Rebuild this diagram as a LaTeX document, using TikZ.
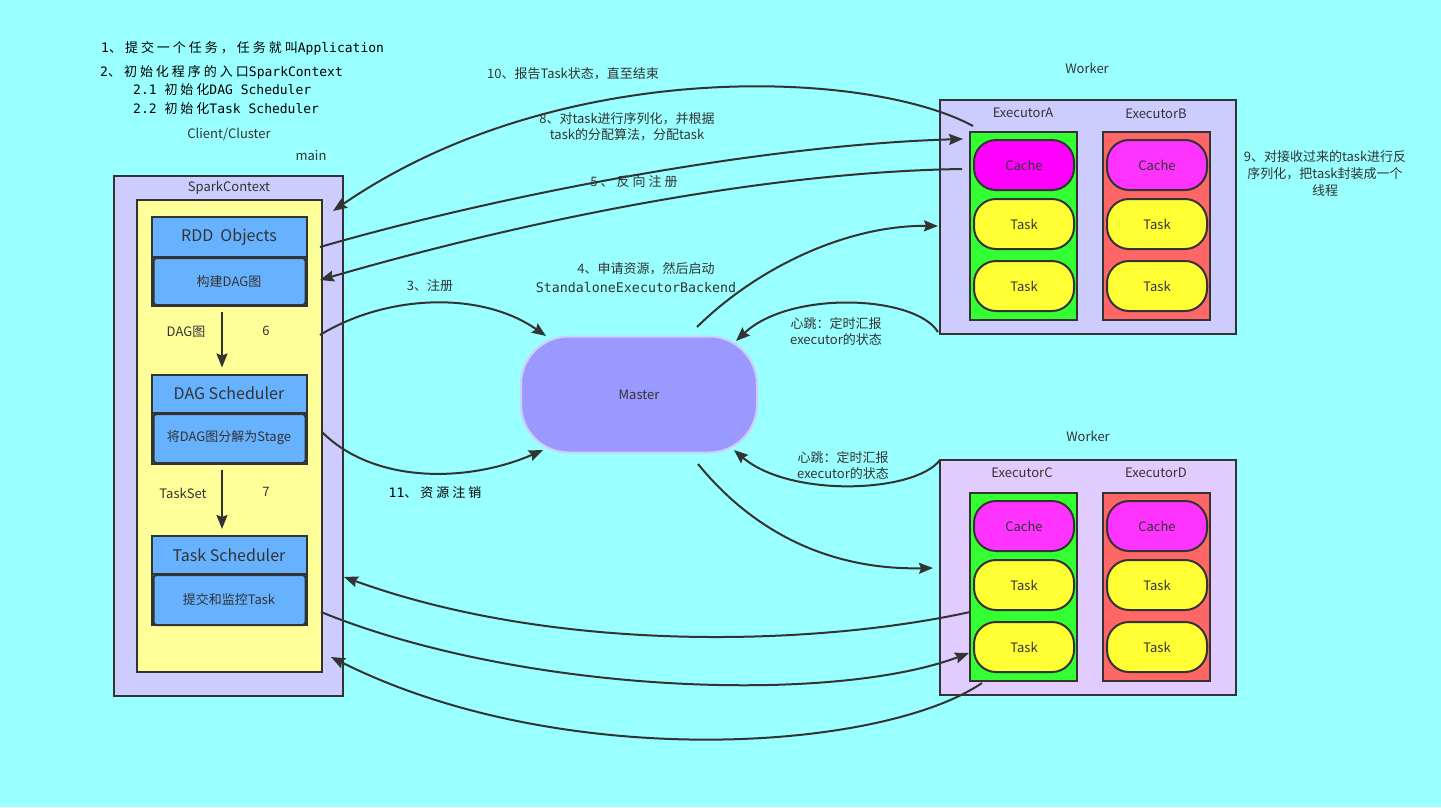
\documentclass[tikz,border=0pt]{standalone}
\usepackage{fontspec}
\setmainfont{Noto Sans CJK SC}
\newfontfamily\cjkwide{Noto Sans CJK SC}[LetterSpace=23]
\newfontfamily\monoface{DejaVu Sans Mono}
\usetikzlibrary{arrows.meta}

\definecolor{bgcyan}{HTML}{99FFFF}
\definecolor{dk}{HTML}{333333}
\definecolor{lav}{HTML}{CCCCFF}
\definecolor{lavpink}{HTML}{E0CCFF}
\definecolor{paleyel}{HTML}{FFFF99}
\definecolor{compblue}{HTML}{66B2FF}
\definecolor{masterfill}{HTML}{9999FF}
\definecolor{masteredge}{HTML}{D0CCFF}
\definecolor{exgreen}{HTML}{33FF33}
\definecolor{exred}{HTML}{FF6666}
\definecolor{magA}{HTML}{FF00FF}
\definecolor{magB}{HTML}{FF33FF}
\definecolor{taskyel}{HTML}{FFFF33}

% monospaced Latin and letter-spaced CJK pieces
\newcommand\mtxt[2][13]{{\monoface\fontsize{#1}{15}\selectfont #2}}
\newcommand\wtxt[1]{{\cjkwide\fontsize{13}{15}\selectfont #1}}

\begin{document}
\begin{tikzpicture}[x=1pt,y=-1pt,
  font=\fontsize{13}{16}\selectfont, text=dk,
  boxed/.style={draw=dk, line width=2pt, inner sep=0pt},
  pill/.style={boxed, rounded corners=22pt, minimum width=100pt, minimum height=50pt},
  exec/.style={boxed, minimum width=107pt, minimum height=188pt},
  comp/.style={boxed, fill=compblue, minimum width=155pt, minimum height=89pt},
  conn/.style={draw=dk, line width=2pt, -{Stealth[length=14pt,width=11pt,inset=2pt]}},
  lbl/.style={inner sep=0pt, align=center},
  big/.style={font=\fontsize{16}{18}\selectfont},
]
\fill[bgcyan] (0,0) rectangle (1441,807);
\useasboundingbox (0,0) rectangle (1441,807);

% ---- notes at the top left
\node[lbl, anchor=west, text=black] (t1) at (101,48) {\mtxt{1}\wtxt{、提交一个任务，任务就叫}\mtxt{Application}};
\node[lbl, anchor=west, text=black] (t2) at (100,72) {\mtxt{2}\wtxt{、初始化程序的入口}\mtxt{SparkContext}};
\node[lbl, anchor=west, text=black] (t3) at (133,90) {\mtxt{2.1 }\wtxt{初始化}\mtxt{DAG Scheduler}};
\node[lbl, anchor=west, text=black] (t4) at (133,109) {\mtxt{2.2 }\wtxt{初始化}\mtxt{Task Scheduler}};
\node[lbl] (client) at (229,134) {Client/Cluster};
\node[lbl] (mainlbl) at (311,156) {main};

% ---- driver side
\node[boxed, fill=lav, minimum width=229pt, minimum height=520pt] (sc) at (228.5,436) {};
\node[lbl] (sclbl) at (229,188) {SparkContext};
\node[boxed, fill=paleyel, minimum width=185pt, minimum height=472pt] (yel) at (229,436) {};

\node[comp] (rdd) at (229.5,261.5) {};
\draw[dk, line width=2pt] (152,257) -- (307,257);
\draw[boxed, fill=compblue, rounded corners=3pt] (153.5,258) rectangle (305.5,305);
\node[lbl, big] (rddt) at (229,237) {RDD\ \ Objects};
\node[lbl] (rdds) at (229,282) {构建DAG图};

\node[comp] (dag) at (229.5,419) {};
\draw[dk, line width=2pt] (152,413) -- (307,413);
\draw[boxed, fill=compblue, rounded corners=3pt] (153.5,414) rectangle (305.5,463);
\node[lbl, big] (dagt) at (229,393) {DAG Scheduler};
\node[lbl] (dags) at (229,438) {将DAG图分解为Stage};

\node[comp] (ts) at (229.5,580.5) {};
\draw[dk, line width=2pt] (152,574) -- (307,574);
\draw[boxed, fill=compblue, rounded corners=3pt] (153.5,575) rectangle (305.5,625);
\node[lbl, big] (tst) at (229,555) {Task Scheduler};
\node[lbl] (tss) at (229,600) {提交和监控Task};

\draw[conn] ([yshift=-5pt]rdd.south -| 222,0) -- ([yshift=6pt]dag.north -| 222,0);
\draw[conn] ([yshift=-5pt]dag.south -| 222,0) -- ([yshift=6pt]ts.north -| 222,0);
\node[lbl] (dagimg) at (186,332) {DAG图};
\node[lbl] (six) at (266,331) {6};
\node[lbl] (taskset) at (183,493) {TaskSet};
\node[lbl] (seven) at (266,492) {7};

% ---- master
\node[draw=masteredge, line width=2pt, fill=masterfill, rounded corners=48pt,
      minimum width=236pt, minimum height=116pt] (master) at (639,394.5) {Master};

% ---- upper worker
\node[lbl] (w1lbl) at (1087,68) {Worker};
\node[boxed, fill=lav, minimum width=296pt, minimum height=234pt] (w1) at (1088,217) {};
\node[lbl] (exAl) at (1023,113) {ExecutorA};
\node[lbl] (exBl) at (1156,114) {ExecutorB};
\node[exec, fill=exgreen] (exA) at (1023.5,226) {};
\node[exec, fill=exred] (exB) at (1156.5,226) {};
\node[pill, fill=magA] (cA) at (1024,165) {Cache};
\node[pill, fill=taskyel] (tA1) at (1024,224) {Task};
\node[pill, fill=taskyel] (tA2) at (1024,286) {Task};
\node[pill, fill=magB] (cB) at (1157,165) {Cache};
\node[pill, fill=taskyel] (tB1) at (1157,224) {Task};
\node[pill, fill=taskyel] (tB2) at (1157,286) {Task};

% ---- lower worker
\node[lbl] (w2lbl) at (1088,436) {Worker};
\node[boxed, fill=lavpink, minimum width=296pt, minimum height=235pt] (w2) at (1088,577.5) {};
\node[lbl] (exCl) at (1022,473) {ExecutorC};
\node[lbl] (exDl) at (1156,473) {ExecutorD};
\node[exec, fill=exgreen] (exC) at (1023.5,587) {};
\node[exec, fill=exred] (exD) at (1156.5,587) {};
\node[pill, fill=magB] (cC) at (1024,526) {Cache};
\node[pill, fill=taskyel] (tC1) at (1024,585) {Task};
\node[pill, fill=taskyel] (tC2) at (1024,647) {Task};
\node[pill, fill=magB] (cD) at (1157,526) {Cache};
\node[pill, fill=taskyel] (tD1) at (1157,585) {Task};
\node[pill, fill=taskyel] (tD2) at (1157,647) {Task};

\node[lbl, font=\fontsize{13}{17}\selectfont] (note9) at (1325,174) {9、对接收过来的task进行反\\序列化，把task封装成一个\\线程};

% ---- connector end points
\coordinate (p10s) at (973,126);   \coordinate (p10e) at (333,211);
\coordinate (p8s)  at (320,247);   \coordinate (p8e)  at (963,139);
\coordinate (p5s)  at (962,169);   \coordinate (p5e)  at (320,280);
\coordinate (p3s)  at (320,335);   \coordinate (p3e)  at (546,336);
\coordinate (p4s)  at (697,327);   \coordinate (p4e)  at (938,226);
\coordinate (hb1s) at (938,332);   \coordinate (hb1e) at (736,341);
\coordinate (hb2s) at (940,460);   \coordinate (hb2e) at (734,450);
\coordinate (p11s) at (322,432);   \coordinate (p11e) at (543,450);
\coordinate (pls)  at (698,464);   \coordinate (ple)  at (933,568);
\coordinate (qas)  at (970,612);   \coordinate (qae)  at (344,577);
\coordinate (qbs)  at (321,612);   \coordinate (qbe)  at (969,653);
\coordinate (qcs)  at (982,683);   \coordinate (qce)  at (331,657);

% ---- connectors
\draw[conn] (p10s) .. controls (870,70) and (560,55) .. (p10e);
\draw[conn] (p8s) .. controls (500,195) and (760,145) .. (p8e);
\draw[conn] (p5s) .. controls (760,172) and (520,222) .. (p5e);
\draw[conn] (p3s) .. controls (385,295) and (480,290) .. (p3e);
\draw[conn] (p4s) .. controls (760,265) and (850,225) .. (p4e);
\draw[conn] (hb1s) .. controls (915,295) and (790,290) .. (hb1e);
\draw[conn] (hb2s) .. controls (915,493) and (790,498) .. (hb2e);
\draw[conn] (p11s) .. controls (375,485) and (470,482) .. (p11e);
\draw[conn] (pls) .. controls (760,540) and (840,570) .. (ple);
\draw[conn] (qas) .. controls (820,645) and (560,655) .. (qae);
\draw[conn] (qbs) .. controls (520,693) and (830,705) .. (qbe);
\draw[conn] (qcs) .. controls (880,752) and (560,772) .. (qce);

% ---- connector labels
\node[lbl] (l10) at (573,74) {10、报告Task状态，直至结束};
\node[lbl] (l8) at (627,126.5) {8、对task进行序列化，并根据\\task的分配算法，分配task};
\node[lbl] (l5) at (634,182) {\wtxt{5、反向注册}};
\node[lbl] (l4a) at (646,269) {4、申请资源，然后启动};
\node[lbl] (l4b) at (636,287) {\mtxt[13.3]{StandaloneExecutorBackend}};
\node[lbl] (l3) at (430,286) {3、注册};
\node[lbl] (hb1) at (836,331.5) {心跳：定时汇报\\executor的状态};
\node[lbl] (hb2) at (843,465.5) {心跳：定时汇报\\executor的状态};
\node[lbl, text=black] (l11) at (435,493) {\mtxt{11}\wtxt{、资源注销}};
\end{tikzpicture}
\end{document}
